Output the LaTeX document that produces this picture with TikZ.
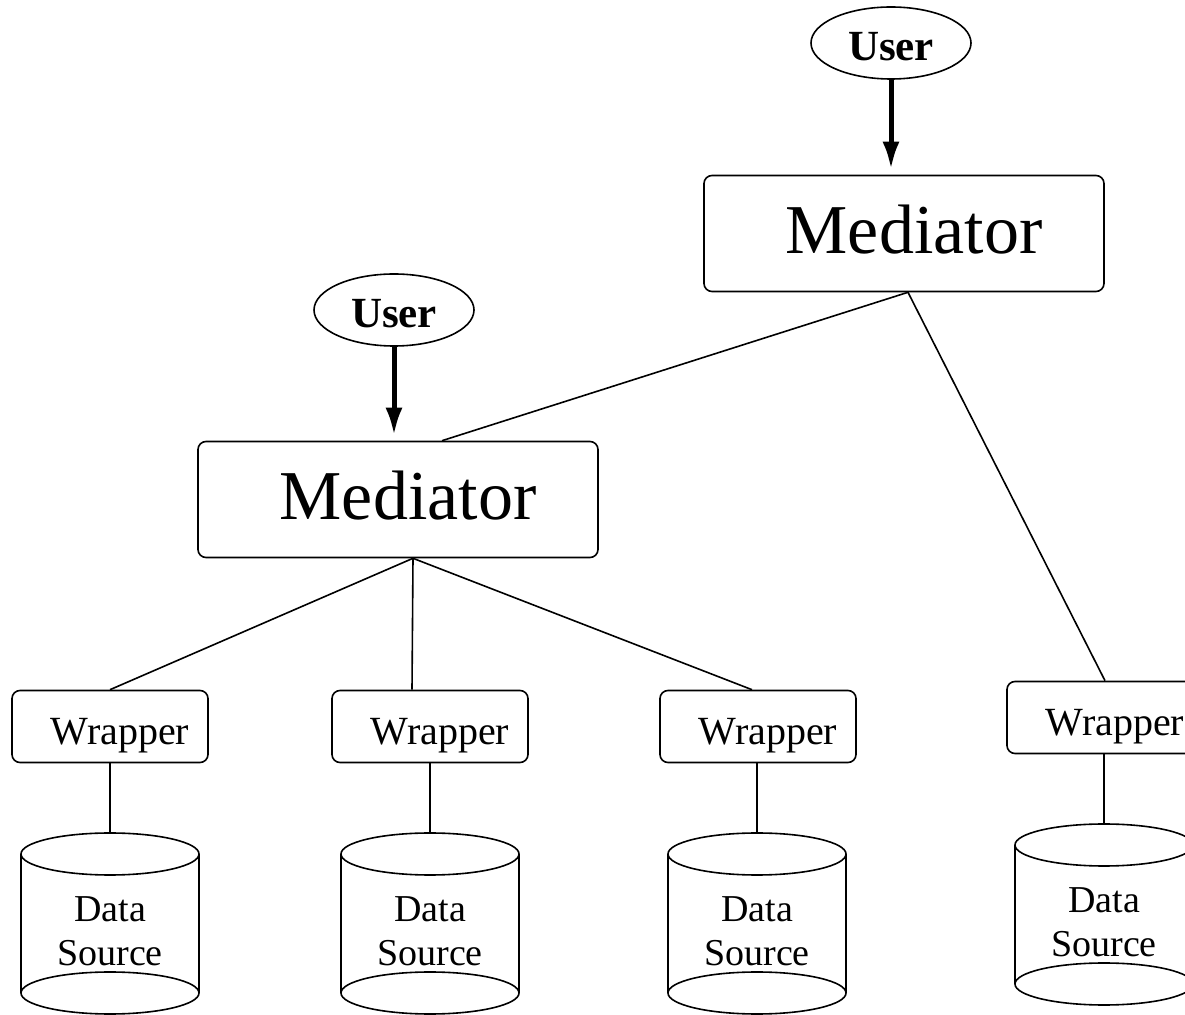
\documentclass[tikz,border=0pt]{standalone}
\usepackage{fontspec}
\setmainfont{Liberation Serif}
\usetikzlibrary{shapes.geometric,arrows.meta}
\newcommand\dbcyl[4]{%
  \draw[conn] (#2,#3) ellipse [x radius=89, y radius=21];
  \draw[conn] (#2-89,#3) -- (#2-89,#4) (#2+89,#3) -- (#2+89,#4);
  \draw[conn] (#2,#4) ellipse [x radius=89, y radius=21];
  \coordinate (#1) at (#2,#3-21);
}
\tikzset{
  conn/.style={line width=0.8pt},
  medbox/.style={draw, conn, rounded corners=4pt, minimum width=200pt, minimum height=58pt, inner sep=0pt,
    font=\fontsize{35pt}{40pt}\selectfont, text height=24pt, text depth=3.5pt},
  wrapbox/.style={draw, conn, rounded corners=4pt, minimum width=98pt, minimum height=36pt, inner sep=0pt,
    font=\fontsize{20pt}{24pt}\selectfont, text height=20pt, text depth=1.5pt},
  userell/.style={draw, conn, ellipse, minimum width=80pt, minimum height=36pt, inner sep=0pt,
    font=\bfseries\fontsize{21.5pt}{25pt}\selectfont, text height=19pt, text depth=1pt},
  dstext/.style={align=center, inner sep=0pt, font=\fontsize{19pt}{22pt}\selectfont},
  userarrow/.style={line width=2.5pt, -{Latex[length=14pt,width=8.5pt]}, shorten >=2.5pt},
}
\begin{document}
\begin{tikzpicture}[x=0.5pt,y=-0.5pt]
\useasboundingbox (0,0) rectangle (1185,1015);
\clip (0,0) rectangle (1185,1015);
% users
\node[userell] (u2) at (891,43) {User};
\node[userell] (u1) at (394,310) {User};
% mediators
\node[medbox] (m2) at (904,233.5) {\hspace{10pt}Mediator};
\node[medbox] (m1) at (398,499.5) {\hspace{10pt}Mediator};
% wrappers
\node[wrapbox] (w1) at (110,726.5) {\hspace{10pt}Wrapper};
\node[wrapbox] (w2) at (430,726.5) {\hspace{10pt}Wrapper};
\node[wrapbox] (w3) at (758,726.5) {\hspace{10pt}Wrapper};
\node[wrapbox] (w4) at (1105,717.5) {\hspace{10pt}Wrapper};
% data sources
\dbcyl{c1}{110}{854}{993}
\dbcyl{c2}{430}{854}{993}
\dbcyl{c3}{757}{854}{993}
\dbcyl{c4}{1104}{845}{984}
\node[dstext] (d1) at (110,931) {Data\\Source};
\node[dstext] (d2) at (430,931) {Data\\Source};
\node[dstext] (d3) at (757,931) {Data\\Source};
\node[dstext] (d4) at (1104,922) {Data\\Source};
% arrows
\draw[userarrow] (u2.south) -- (u2.south |- m2.north);
\draw[userarrow] (u1.south) -- (u1.south |- m1.north);
% connectors
\draw[conn] ([xshift=2pt]m2.south) -- ([xshift=22pt]m1.north);
\draw[conn] ([xshift=2pt]m2.south) -- (w4.north);
\draw[conn] ([xshift=7.5pt]m1.south) -- (w1.north);
\draw[conn] ([xshift=7.5pt]m1.south) -- ([xshift=-9pt]w2.north);
\draw[conn] ([xshift=7.5pt]m1.south) -- ([xshift=-3pt]w3.north);
\draw[conn] (w1.south) -- (c1);
\draw[conn] (w2.south) -- (c2);
\draw[conn] ([xshift=-0.5pt]w3.south) -- (c3);
\draw[conn] ([xshift=-0.5pt]w4.south) -- (c4);
\end{tikzpicture}
\end{document}
